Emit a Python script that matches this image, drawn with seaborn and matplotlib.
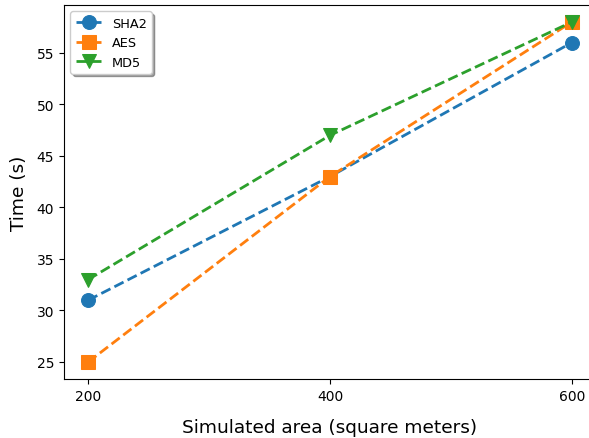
import matplotlib
matplotlib.use("Agg")
import matplotlib.pyplot as plt
import seaborn as sns
import pandas as pd

areas = [200, 400, 600]
sha2 = [31, 43, 56]
aes = [25, 43, 58]
md5 = [33, 47, 58]
series_names = ["SHA2", "AES", "MD5"]
markers = ["o", "s", "v"]
colors = ["#1f77b4", "#ff7f0e", "#2ca02c"]

fig = plt.figure(figsize=(5.89, 4.39), dpi=100)
ax = fig.add_axes([64 / 589, 59 / 439, 532 / 589, 374 / 439])

for name, vals, m, c in zip(series_names, [sha2, aes, md5], markers, colors):
    df = pd.DataFrame({"x": areas, "y": vals})
    sns.lineplot(data=df, x="x", y="y", ax=ax, marker=m, color=c, linestyle="--",
                 linewidth=2, markersize=10, markeredgecolor=c, label=name)

ax.set_xticks(areas)
ax.set_xlabel("Simulated area (square meters)", fontsize=13.3, labelpad=11)
ax.set_ylabel("Time (s)", fontsize=13.3, labelpad=6)
ax.legend(loc="upper left", shadow=True, fancybox=True, fontsize=9.3)
fig.savefig("out.png", dpi=100)
